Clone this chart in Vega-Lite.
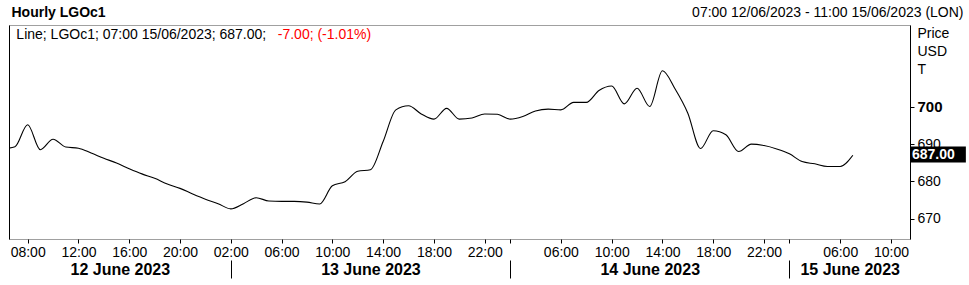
{
  "$schema": "https://vega.github.io/schema/vega-lite/v6.json",
  "width": 901,
  "height": 214,
  "autosize": "none",
  "padding": {"left": 9, "top": 25, "right": 59, "bottom": 46},
  "background": "white",
  "config": {
    "font": "Liberation Sans",
    "view": {"stroke": "#a0a0a0"},
    "axis": {"labelFont": "Liberation Sans", "titleFont": "Liberation Sans", "grid": false}
  },
  "data": {
    "values": [
      {"i": -1, "v": 688.7}, {"i": 0, "v": 689.3}, {"i": 1, "v": 695.2}, {"i": 2, "v": 688.5},
      {"i": 3, "v": 691.3}, {"i": 4, "v": 689.2}, {"i": 5, "v": 688.9}, {"i": 6, "v": 687.6},
      {"i": 7, "v": 686.2}, {"i": 8, "v": 684.9}, {"i": 9, "v": 683.4}, {"i": 10, "v": 682.0},
      {"i": 11, "v": 680.8}, {"i": 12, "v": 679.3}, {"i": 13, "v": 678.1}, {"i": 14, "v": 676.6},
      {"i": 15, "v": 675.2}, {"i": 16, "v": 674.0}, {"i": 17, "v": 672.6}, {"i": 18, "v": 674.0},
      {"i": 19, "v": 675.6}, {"i": 20, "v": 674.7}, {"i": 21, "v": 674.6}, {"i": 22, "v": 674.6},
      {"i": 23, "v": 674.4}, {"i": 24, "v": 673.9}, {"i": 25, "v": 678.8}, {"i": 26, "v": 679.9},
      {"i": 27, "v": 682.7}, {"i": 28, "v": 683.1}, {"i": 29, "v": 690.7}, {"i": 30, "v": 699.2},
      {"i": 31, "v": 700.3}, {"i": 32, "v": 698.1}, {"i": 33, "v": 696.7}, {"i": 34, "v": 699.6},
      {"i": 35, "v": 696.7}, {"i": 36, "v": 697.0}, {"i": 37, "v": 698.1}, {"i": 38, "v": 698.0},
      {"i": 39, "v": 696.7}, {"i": 40, "v": 697.4}, {"i": 41, "v": 698.9}, {"i": 42, "v": 699.4},
      {"i": 43, "v": 699.2}, {"i": 44, "v": 701.2}, {"i": 45, "v": 701.2}, {"i": 46, "v": 704.4},
      {"i": 47, "v": 705.6}, {"i": 48, "v": 700.8}, {"i": 49, "v": 705.0}, {"i": 50, "v": 700.1},
      {"i": 51, "v": 709.7}, {"i": 52, "v": 704.8}, {"i": 53, "v": 698.3}, {"i": 54, "v": 688.8},
      {"i": 55, "v": 693.6}, {"i": 56, "v": 692.5}, {"i": 57, "v": 688.0}, {"i": 58, "v": 690.0},
      {"i": 59, "v": 689.6}, {"i": 60, "v": 688.7}, {"i": 61, "v": 687.4}, {"i": 62, "v": 685.3},
      {"i": 63, "v": 684.7}, {"i": 64, "v": 684.0}, {"i": 65, "v": 684.0}, {"i": 66, "v": 687.0}
    ]
  },
  "layer": [
    {
      "mark": {"type": "line", "interpolate": "monotone", "color": "black", "strokeWidth": 1.1, "clip": true},
      "encoding": {
        "x": {
          "field": "i", "type": "quantitative",
          "scale": {"domain": [-0.47, 70.5], "nice": false, "zero": false},
          "axis": {
            "orient": "bottom",
            "values": [1, 5, 9, 13, 17, 21, 25, 29, 33, 37, 39, 43, 47, 51, 55, 59, 61, 65, 69],
            "labelExpr": "['08:00','12:00','16:00','20:00','02:00','06:00','10:00','14:00','18:00','22:00','','06:00','10:00','14:00','18:00','22:00','','06:00','10:00'][indexof([1,5,9,13,17,21,25,29,33,37,39,43,47,51,55,59,61,65,69], datum.value)]",
            "domain": false,
            "ticks": true,
            "tickSize": 4,
            "tickColor": "black",
            "labelFontSize": 14,
            "labelColor": "black",
            "labelPadding": 2,
            "labelFlush": false,
            "labelOverlap": false,
            "title": null
          }
        },
        "y": {
          "field": "v", "type": "quantitative",
          "scale": {"domain": [664.5, 722], "nice": false, "zero": false},
          "axis": {
            "orient": "right",
            "values": [670, 680, 690, 700],
            "tickSize": 4,
            "tickColor": "black",
            "domainColor": "black",
            "labelPadding": 3,
            "labelColor": "black",
            "labelBaseline": "middle",
            "labelFontSize": {"condition": {"test": "datum.value == 700", "value": 15}, "value": 14},
            "labelFontWeight": {"condition": {"test": "datum.value == 700", "value": "bold"}, "value": "normal"},
            "labelOverlap": false,
            "labelFlush": false,
            "title": ["Price", "USD", "T"],
            "titleAngle": 0,
            "titleAlign": "left",
            "titleBaseline": "top",
            "titleX": 7,
            "titleY": 1,
            "titleFontSize": 14,
            "titleFontWeight": "normal",
            "titleLineHeight": 18,
            "titleColor": "black"
          }
        }
      }
    },
    {
      "data": {"values": [{}]},
      "mark": {"type": "rect", "color": "black"},
      "encoding": {
        "x": {
          "datum": 70.5, "type": "quantitative",
          "axis": {
            "orient": "bottom",
            "offset": 21,
            "values": [8.26, 17, 28, 39, 50, 61, 65.75],
            "labelExpr": "datum.value == 17 || datum.value == 39 || datum.value == 61 ? '' : (datum.value < 10 ? '12 June 2023' : datum.value < 30 ? '13 June 2023' : datum.value < 55 ? '14 June 2023' : '15 June 2023')",
            "domain": false,
            "tickSize": 18,
            "tickColor": "black",
            "tickOpacity": {"condition": {"test": "datum.value == 17 || datum.value == 39 || datum.value == 61", "value": 1}, "value": 0},
            "labelPadding": -9,
            "labelBaseline": "middle",
            "labelFontSize": 16,
            "labelFontWeight": "bold",
            "labelColor": "black",
            "labelFlush": false,
            "labelOverlap": false,
            "title": null
          }
        },
        "x2": {"datum": 74.9},
        "y": {
          "datum": 685.07, "type": "quantitative",
          "axis": {
            "orient": "left",
            "domain": true,
            "domainColor": "black",
            "ticks": false,
            "labels": false,
            "title": "Hourly LGOc1",
            "titleAngle": 0,
            "titleAlign": "left",
            "titleBaseline": "middle",
            "titleX": 2,
            "titleY": -13,
            "titleFontSize": 14,
            "titleFontWeight": "bold",
            "titleColor": "black"
          }
        },
        "y2": {"datum": 689.36}
      }
    },
    {
      "data": {"values": [{}]},
      "mark": {"type": "text", "color": "white", "fontSize": 14, "fontWeight": "bold", "align": "left", "baseline": "middle", "dx": 2, "text": "687.00"},
      "encoding": {
        "x": {"datum": 70.5, "type": "quantitative", "axis": null},
        "y": {"datum": 687, "type": "quantitative", "axis": null}
      }
    },
    {
      "data": {"values": [{}]},
      "mark": {"type": "text", "color": "black", "fontSize": 14, "align": "left", "baseline": "middle", "text": "Line; LGOc1; 07:00 15/06/2023; 687.00;"},
      "encoding": {
        "x": {
          "datum": 0.11, "type": "quantitative",
          "axis": {
            "orient": "top",
            "domain": false,
            "ticks": false,
            "labels": false,
            "title": "07:00 12/06/2023 - 11:00 15/06/2023 (LON)",
            "titleAlign": "right",
            "titleBaseline": "middle",
            "titleX": 954,
            "titleY": -13,
            "titleFontSize": 14,
            "titleFontWeight": "normal",
            "titleColor": "black"
          }
        },
        "y": {"datum": 719.3, "type": "quantitative", "axis": null}
      }
    },
    {
      "data": {"values": [{}]},
      "mark": {"type": "text", "color": "#ff0000", "fontSize": 14, "align": "left", "baseline": "middle", "text": "-7.00; (-1.01%)"},
      "encoding": {
        "x": {"datum": 20.7, "type": "quantitative", "axis": null},
        "y": {"datum": 719.3, "type": "quantitative", "axis": null}
      }
    }
  ],
  "resolve": {"axis": {"x": "independent", "y": "independent"}}
}
